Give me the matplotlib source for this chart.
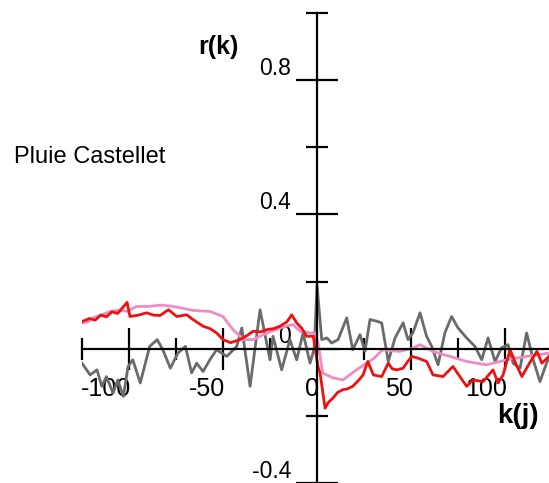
import matplotlib
matplotlib.use("Agg")
import matplotlib.pyplot as plt
from matplotlib.ticker import FixedLocator

plt.rcParams['font.family'] = ['Liberation Sans', 'DejaVu Sans']

# ---- data (lag k, correlation r) ----
red_k = [-125, -121, -118, -115, -112, -109, -106, -103, -101, -99.5, -95, -90.6, -87, -83.5,
         -79, -74.6, -69.3, -66, -60.6, -57, -53.4, -50, -46, -41, -37, -34, -30, -26.6, -23,
         -19.7, -16, -13.5, -10.8, -8, -5.5, -2, 0.5, 1.6, 4.3, 6, 8.5, 11, 13.8, 16, 19, 22,
         24.5, 27, 30, 34.4, 37.9, 40, 42.4, 45.8, 48, 50.4, 53.7, 58.3, 61.7, 64, 67, 72.3,
         76, 79.6, 83, 88.3, 93.6, 96.3, 99, 102.7, 106, 109, 113, 117, 119.6, 123.4]
red_r = [0.081, 0.090, 0.085, 0.100, 0.095, 0.110, 0.105, 0.125, 0.138, 0.096, 0.100, 0.107,
         0.100, 0.099, 0.116, 0.096, 0.101, 0.087, 0.067, 0.060, 0.047, 0.027, 0.018, 0.027,
         0.040, 0.052, 0.050, 0.057, 0.060, 0.067, 0.080, 0.101, 0.077, 0.060, 0.037, 0.037,
         -0.053, -0.072, -0.177, -0.160, -0.147, -0.130, -0.122, -0.120, -0.112, -0.095,
         -0.078, -0.038, -0.078, -0.083, -0.043, -0.060, -0.063, -0.058, -0.040, -0.023,
         -0.028, -0.038, -0.078, -0.080, -0.083, -0.053, -0.083, -0.112, -0.093, -0.098,
         -0.063, -0.102, -0.078, -0.003, -0.048, -0.083, -0.043, -0.008, -0.043, -0.023]

pink_k = [-125, -122, -119, -115, -110, -105, -101, -96, -89, -83, -76.6, -71, -66, -57, -50,
          -44.7, -39, -34, -26.6, -19.7, -12.8, -9, -3.7, -1, 0.5, 3, 8.5, 13.8, 21, 26.4, 30,
          35, 44, 50, 54.8, 61.7, 70.7, 79.6, 90, 101, 111.5, 123.4]
pink_r = [0.077, 0.080, 0.092, 0.100, 0.111, 0.115, 0.111, 0.126, 0.126, 0.130, 0.126, 0.120,
          0.114, 0.111, 0.096, 0.057, 0.027, 0.027, 0.047, 0.062, 0.072, 0.052, 0.047, 0.047,
          0.020, -0.072, -0.087, -0.093, -0.063, -0.043, -0.030, -0.003, -0.008, 0.000,
          0.012, -0.008, -0.023, -0.038, -0.048, -0.033, -0.023, -0.013]

gray_k = [-125, -120.7, -117, -114.5, -112, -108.5, -106, -103, -100.5, -98, -94, -89, -85, -82,
          -78, -74, -70, -66.7, -64, -60.6, -57, -53.4, -48, -42.7, -40, -35.6, -30.3, -25,
          -23.4, -18.8, -14.4, -10.8, -7.4, -3.7, -1.5, 0, 2.5, 5.3, 7.8, 11.2, 15.8, 19, 22.9,
          25.5, 28.2, 31.7, 34.4, 37.9, 41.5, 45.8, 48.4, 51, 54.8, 58.3, 61, 64.4, 68, 71.6,
          75, 79.6, 84, 87.6, 91, 94.7, 98.2, 101.6, 104.3, 108, 111.5, 115, 118.6, 123.4]
gray_r = [-0.043, -0.078, -0.063, -0.112, -0.083, -0.132, -0.093, -0.142, -0.053, -0.033,
          -0.102, 0.007, 0.027, -0.003, -0.058, -0.013, 0.007, -0.072, -0.043, -0.068, -0.033,
          -0.003, -0.023, 0.007, 0.062, -0.112, 0.116, -0.033, 0.037, -0.063, 0.027, -0.033,
          0.047, -0.043, 0.000, 0.190, 0.027, 0.032, 0.017, 0.027, 0.092, -0.003, 0.042,
          -0.008, 0.087, 0.082, 0.077, -0.038, 0.032, 0.077, 0.027, 0.047, 0.107, 0.037,
          0.007, -0.048, 0.047, 0.096, 0.062, 0.032, 0.007, -0.033, 0.032, -0.038, 0.003,
          0.012, -0.043, -0.058, 0.047, -0.033, -0.098, -0.023]

x_major = [-100, -50, 50, 100]
x_minor = [-125, -75, -25, 25, 75]
x_labels = [-100, -50, 0, 50, 100]
y_major = [-0.4, 0.0, 0.4, 0.8]
y_minor = [-0.2, 0.2, 0.6, 1.0]
y_labels = [-0.4, 0.0, 0.4, 0.8]

W, H = 549, 483
fig = plt.figure(figsize=(W / 100, H / 100), dpi=100)
ax = fig.add_axes([82 / W, 0, 467 / W, 470 / H])
ax.set_xlim(-125, 123.4)
ax.set_ylim(-0.4, 1.0)
ax.patch.set_alpha(0)

ax.plot(gray_k, gray_r, color='#6b6b6b', lw=2.0, zorder=2)
ax.plot(pink_k, pink_r, color='#f08cc4', lw=2.0, zorder=3)
ax.plot(red_k, red_r, color='#ee1111', lw=2.0, zorder=4)

for s in ['top', 'right']:
    ax.spines[s].set_visible(False)
ax.spines['left'].set_position(('data', 0))
ax.spines['bottom'].set_position(('data', 0))
for s in ['left', 'bottom']:
    ax.spines[s].set_linewidth(1.6)
    ax.spines[s].set_zorder(5)

ax.xaxis.set_major_locator(FixedLocator(x_major))
ax.xaxis.set_minor_locator(FixedLocator(x_minor))
ax.yaxis.set_major_locator(FixedLocator(y_major))
ax.yaxis.set_minor_locator(FixedLocator(y_minor))
ax.tick_params(which='major', direction='inout', length=30, width=1.6, labelbottom=False, labelleft=False)
ax.tick_params(which='minor', direction='inout', length=16, width=1.6)

for v in x_labels:
    ax.annotate(f"{v}", xy=(v, 0), xytext=(2, -40), textcoords='offset pixels',
                ha='right', va='center', fontsize=18, zorder=1)
for v in y_labels:
    lab = "0" if v == 0 else f"{v:.1f}"
    ax.annotate(lab, xy=(0, v), xytext=(-26, 12), textcoords='offset pixels',
                ha='right', va='center', fontsize=16.5, zorder=1)

fig.text(239 / W, 1 - 47 / H, "r(k)", ha='right', va='center', fontsize=18, fontweight='bold')
fig.text(539 / W, 1 - 416 / H, "k(j)", ha='right', va='center', fontsize=20, fontweight='bold')
fig.text(14 / W, 1 - 157 / H, "Pluie Castellet", ha='left', va='center', fontsize=17)

fig.savefig("out.png", dpi=100)
